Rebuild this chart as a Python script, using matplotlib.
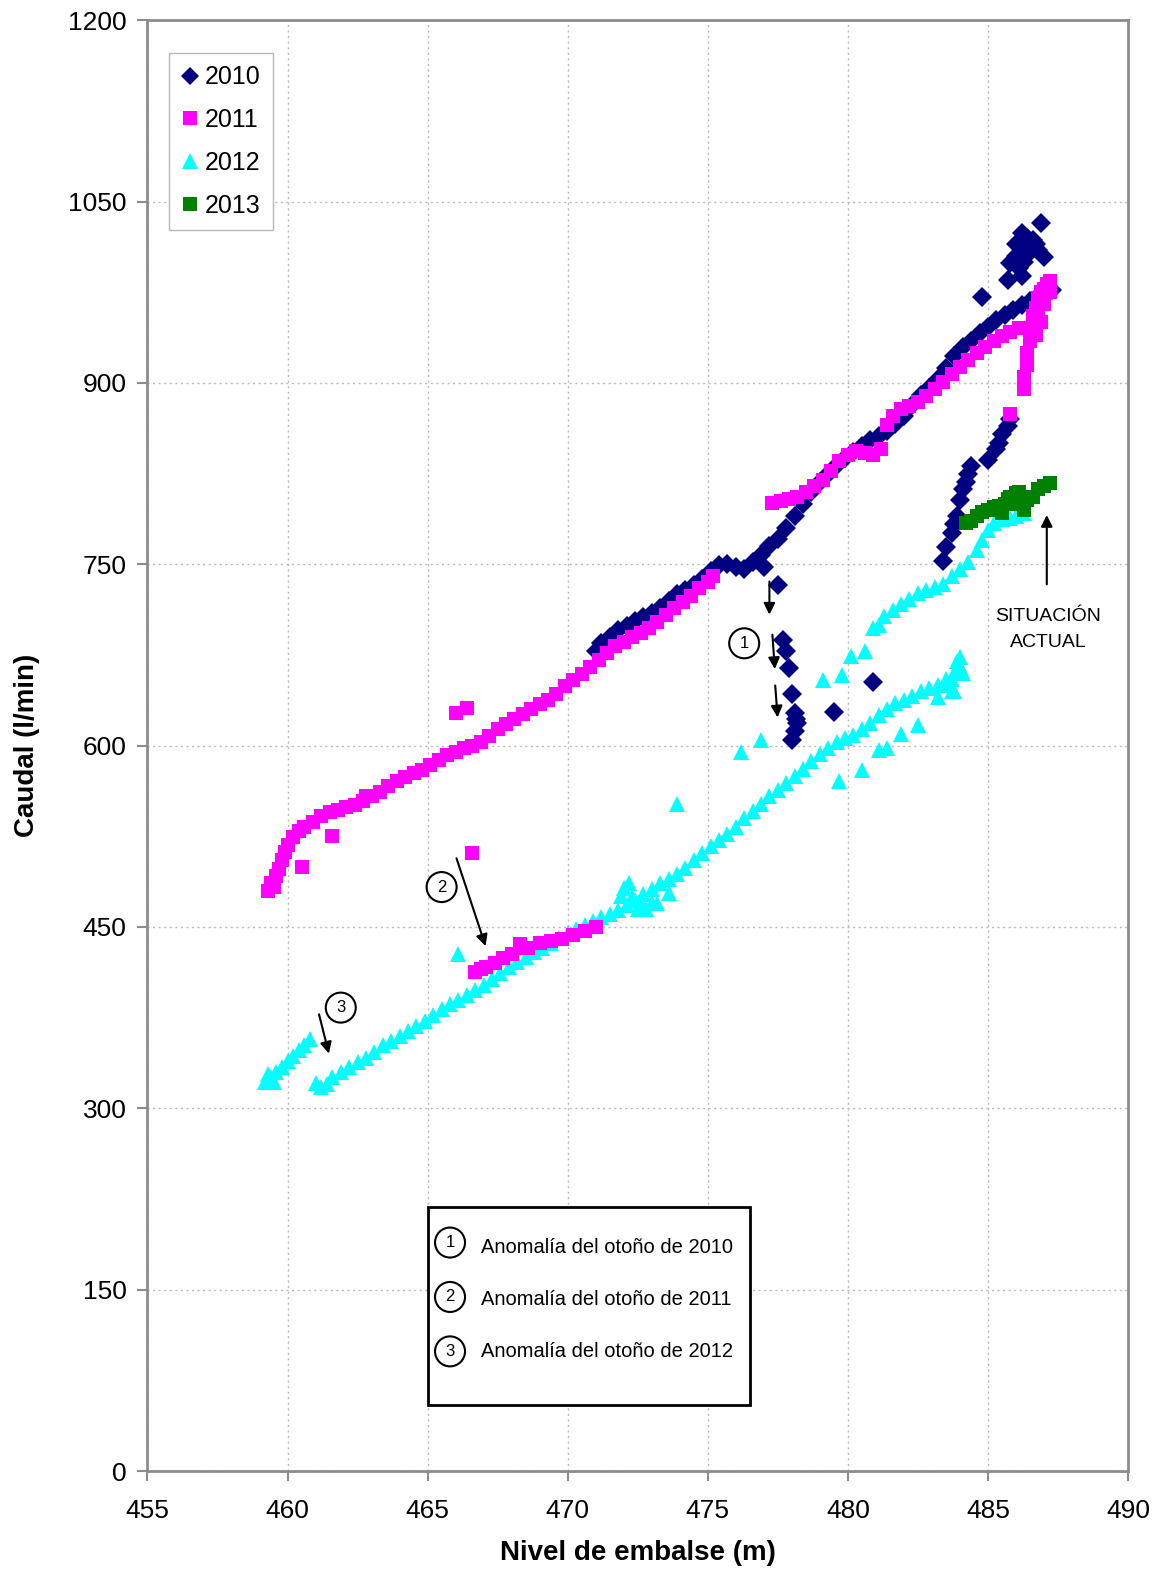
import numpy as np
import matplotlib
matplotlib.use("Agg")
import matplotlib.pyplot as plt
from matplotlib.lines import Line2D

plt.rcParams['font.family'] = ['Liberation Sans', 'DejaVu Sans']

# ---- 2010 (diamonds) ----
x_2010 = [471.0, 471.2, 471.5, 471.8, 472.1, 472.4, 472.7, 473.0, 473.3, 473.6, 473.9, 474.2,
          474.5, 474.8, 475.1, 475.4, 475.7, 476.0, 476.3, 476.6, 476.9, 477.2, 477.5, 477.8,
          478.1, 478.4, 478.7, 479.0, 479.3, 479.6, 479.9, 480.2, 480.5, 480.8, 481.1, 481.4,
          481.7, 482.0, 482.3, 482.6, 482.9, 483.2, 483.5, 483.8, 484.1, 484.4, 484.7, 485.0,
          485.3, 485.6, 485.9, 486.2, 486.5, 486.8, 487.1, 487.3,
          # top cluster
          484.8, 485.7, 486.2, 485.8, 486.0, 486.2, 486.4, 486.2, 486.6, 486.5, 486.9, 487.0,
          486.7, 486.3, 486.8, 486.0, 486.4, 486.1,
          # lower right branch
          483.4, 483.5, 483.7, 483.8, 483.9, 484.0, 484.1, 484.2, 484.3, 484.4, 485.0, 485.3,
          485.4, 485.5, 485.7, 485.8,
          # anomaly 1
          477.0, 477.5, 477.7, 477.8, 477.9, 478.0, 478.1, 478.2, 478.1, 478.0, 478.15, 480.9, 479.5]
y_2010 = [678, 685, 690, 696, 699, 703, 706, 710, 714, 720, 725, 729,
          733, 738, 744, 749, 750, 748, 746, 752, 758, 765, 771, 780,
          790, 800, 810, 818, 825, 832, 838, 843, 848, 853, 856, 860,
          866, 873, 882, 890, 896, 903, 912, 922, 930, 935, 941, 946,
          952, 956, 960, 964, 968, 972, 975, 977,
          971, 985, 988, 999, 1005, 1012, 1010, 1024, 1018, 1008, 1032, 1004,
          1015, 1000, 1010, 1015, 1020, 995,
          753, 764, 776, 783, 790, 803, 812, 818, 825, 831, 836, 845,
          850, 858, 864, 870,
          748, 733, 687, 678, 664, 643, 627, 619, 612, 605, 622, 653, 628]

# ---- 2011 (squares) ----
x_2011 = [459.3, 459.4, 459.5, 459.6, 459.7, 459.8, 459.9, 460.0, 460.2, 460.4, 460.6, 460.9,
          461.2, 461.5, 461.8, 462.1, 462.4, 462.7, 463.0, 463.3, 463.6, 463.9, 464.2, 464.5,
          464.8, 465.1, 465.4, 465.7, 466.0, 466.3, 466.6, 466.9, 467.2, 467.5, 467.8, 468.1,
          468.4, 468.7, 469.0, 469.3, 469.6, 469.9, 470.2, 470.5, 470.8, 471.1, 471.4, 471.7,
          472.0, 472.3, 472.6, 472.9, 473.2, 473.5, 473.8, 474.1, 474.4, 474.7, 475.0, 475.2,
          # outliers
          460.5, 461.6, 462.8, 466.0, 466.4, 466.6,
          # lower cluster (anomaly 2)
          466.7, 466.9, 467.1, 467.4, 467.7, 468.0, 468.3, 468.6, 469.0, 469.4, 469.8, 470.2,
          470.6, 471.0, 468.3,
          # upper right
          477.3, 477.6, 477.9, 478.2, 478.5, 478.8, 479.1, 479.4, 479.7, 480.0, 480.3, 480.6,
          480.9, 481.2, 481.4, 481.6, 481.9, 482.2, 482.5, 482.8, 483.1, 483.4, 483.7, 484.0,
          484.3, 484.6, 484.9, 485.2, 485.5, 485.8, 486.1,
          # vertical column near 486-487
          486.3, 486.3, 486.4, 486.4, 486.5, 486.5, 486.6, 486.7, 486.8, 486.9, 487.0, 487.1,
          487.2, 487.0, 486.8, 487.2, 486.7, 486.9, 485.8]
y_2011 = [480, 486, 483, 492, 498, 505, 512, 518, 524, 529, 533, 537,
          542, 545, 547, 549, 551, 554, 558, 562, 567, 571, 574, 577,
          580, 584, 588, 592, 595, 598, 600, 603, 608, 614, 618, 622,
          626, 630, 634, 638, 643, 649, 654, 659, 665, 671, 677, 682,
          686, 690, 693, 697, 702, 708, 714, 719, 724, 730, 735, 740,
          500, 525, 558, 627, 631, 511,
          413, 415, 417, 420, 424, 428, 433, 433, 437, 438, 440, 443,
          447, 450, 436,
          801, 802, 804, 806, 810, 815, 820, 827, 835, 840, 844, 842,
          840, 845, 865, 873, 878, 881, 884, 889, 895, 901, 907, 913,
          919, 925, 930, 935, 939, 942, 945,
          895, 905, 915, 925, 935, 945, 955, 962, 970, 975, 978, 982,
          984, 965, 958, 975, 940, 950, 874]

# ---- 2012 (triangles) ----
x_2012 = [459.2, 459.4, 459.6, 459.8, 460.0, 460.2, 460.4, 460.6, 460.8, 459.5, 459.3,
          461.0, 461.2, 461.4, 461.6, 461.9, 462.2, 462.5, 462.8, 463.1, 463.4, 463.7, 464.0,
          464.3, 464.6, 464.9, 465.2, 465.5, 465.8, 466.1, 466.4, 466.7, 467.0, 467.3, 467.6,
          467.9, 468.2, 468.5, 468.8, 469.1, 469.4, 469.7, 470.0, 470.3, 470.6, 470.9, 471.2,
          471.5, 471.8, 472.1, 472.4, 472.7, 473.0, 473.3, 473.6, 473.9, 474.2, 474.5, 474.8,
          475.1, 475.4, 475.7, 476.0, 476.3, 476.6, 476.9, 477.2, 477.5, 477.8, 478.1, 478.4,
          478.7, 479.0, 479.3, 479.6, 479.9, 480.2, 480.5, 480.8, 481.1, 481.4, 481.7, 482.0,
          482.3, 482.6, 482.9, 483.2, 483.5, 483.8, 484.0,
          # thickening
          472.0, 472.2, 471.9, 472.3, 472.6, 473.0, 472.8, 472.5, 473.2, 473.6,
          483.6, 483.9, 484.0, 483.7, 483.8, 484.1,
          # scattered
          466.1, 473.9, 476.2, 476.9, 478.1, 479.1, 479.8, 480.1, 480.6, 480.9, 479.7, 480.5,
          481.1, 481.4, 481.9, 482.5, 483.2, 483.7,
          # upper branch
          481.1, 481.3, 481.6, 481.9, 482.2, 482.5, 482.8, 483.1, 483.4, 483.7, 484.0, 484.3,
          484.6, 484.8, 485.0, 485.2, 485.5, 485.8, 486.0, 486.3]
y_2012 = [322, 326, 330, 334, 339, 343, 348, 352, 357, 322, 328,
          321, 318, 320, 326, 330, 334, 338, 342, 347, 352, 356, 360,
          364, 368, 372, 377, 382, 386, 390, 394, 398, 402, 407, 412,
          417, 421, 425, 429, 433, 437, 441, 445, 448, 452, 455, 458,
          461, 464, 468, 472, 477, 481, 486, 490, 494, 499, 505, 511,
          517, 522, 527, 533, 540, 546, 552, 558, 563, 569, 575, 581,
          587, 593, 598, 603, 606, 609, 614, 619, 625, 630, 635, 638,
          641, 645, 648, 650, 655, 660, 666,
          482, 486, 476, 475, 470, 470, 465, 465, 470, 478,
          650, 670, 673, 655, 645, 660,
          428, 552, 595, 605, 629, 654, 658, 674, 678, 697, 571, 580,
          596, 598, 610, 617, 640, 645,
          700, 707, 712, 717, 721, 726, 729, 731, 734, 740, 746, 752,
          762, 770, 778, 784, 787, 788, 790, 792]

# ---- 2013 (squares) ----
x_2013 = [484.2, 484.4, 484.6, 484.8, 485.0, 485.2, 485.4, 485.6, 485.8, 486.0, 486.2, 486.4,
          486.6, 486.8, 487.0, 487.2, 485.9, 486.3, 485.5, 485.7, 486.1]
y_2013 = [784, 786, 790, 793, 795, 797, 798, 800, 806, 809, 805, 803,
          806, 812, 815, 817, 800, 795, 792, 804, 810]

years = ['2010', '2011', '2012', '2013']
colors = ['#000080', '#ff00ff', '#00ffff', '#008000']
markers = ['D', 's', '^', 's']
msizes = [10, 10.5, 12, 10.5]

anomaly_labels = ['Anomalía del otoño de 2010', 'Anomalía del otoño de 2011',
                  'Anomalía del otoño de 2012']

fig = plt.figure(figsize=(11.61, 15.73), dpi=100)
ax = fig.add_axes([0.127, 0.0648, 0.8446, 0.9224])

series = [(x_2010, y_2010), (x_2011, y_2011), (x_2012, y_2012), (x_2013, y_2013)]
# draw order: 2012 at the back, then 2010, 2011, 2013
for i in [2, 0, 1, 3]:
    xs, ys = series[i]
    ax.plot(xs, ys, linestyle='none', marker=markers[i], markersize=msizes[i],
            color=colors[i], markeredgewidth=0, zorder=3)

ax.set_xlim(455, 490)
ax.set_ylim(0, 1200)
ax.set_xticks(np.arange(455, 491, 5))
ax.set_yticks(np.arange(0, 1201, 150))
ax.grid(True, color='#b8b8b8', linestyle=(0, (1.5, 2.5)), linewidth=1)
ax.set_axisbelow(True)
for s in ax.spines.values():
    s.set_color('#8c8c8c')
    s.set_linewidth(2)
ax.tick_params(axis='both', labelsize=19, color='#8c8c8c', width=1.5, length=7,
               direction='out')
ax.tick_params(axis='x', pad=13)
ax.tick_params(axis='y', pad=8)
ax.set_xlabel('Nivel de embalse (m)', fontsize=20, fontweight='bold', labelpad=12)
ax.set_ylabel('Caudal (l/min)', fontsize=20, fontweight='bold', labelpad=20)

# series legend
handles = [Line2D([], [], linestyle='none', marker=markers[i], markersize=msizes[i] * 0.95,
                  color=colors[i], markeredgewidth=0, label=years[i]) for i in range(4)]
leg = ax.legend(handles=handles, loc='upper left', bbox_to_anchor=(0.0215, 0.9775),
                borderaxespad=0, fontsize=18, handlelength=0.7, handletextpad=0.25,
                labelspacing=0.75, borderpad=0.5, fancybox=False, framealpha=1)
leg.get_frame().set_edgecolor('#b8b8b8')
leg.get_frame().set_linewidth(1)

circ = dict(boxstyle='circle,pad=0.45', fc='white', ec='black', lw=1.5)
arrow = dict(arrowstyle='-|>', color='black', lw=1.5, mutation_scale=17)

# anomaly 1 arrows
ax.annotate('', xy=(477.2, 706), xytext=(477.2, 738), arrowprops=arrow)
ax.annotate('', xy=(477.4, 661), xytext=(477.3, 694), arrowprops=arrow)
ax.annotate('', xy=(477.5, 621), xytext=(477.4, 652), arrowprops=arrow)
ax.text(476.3, 684.6, '1', fontsize=12, ha='center', va='center', bbox=circ, zorder=5)

# anomaly 2
ax.annotate('', xy=(467.1, 432), xytext=(466.0, 509), arrowprops=arrow)
ax.text(465.5, 483, '2', fontsize=12, ha='center', va='center', bbox=circ, zorder=5)

# anomaly 3
ax.annotate('', xy=(461.5, 343), xytext=(461.1, 380), arrowprops=arrow)
ax.text(461.9, 383.3, '3', fontsize=12, ha='center', va='center', bbox=circ, zorder=5)

# current situation
ax.annotate('', xy=(487.1, 793), xytext=(487.1, 731), arrowprops=arrow)
ax.text(487.15, 707, 'SITUACIÓN', fontsize=14, ha='center', va='center')
ax.text(487.15, 685, 'ACTUAL', fontsize=14, ha='center', va='center')

# anomaly box
box = plt.Rectangle((465.0, 54.7), 11.5, 163.3, fill=True, fc='white', ec='black',
                    lw=2, zorder=4)
ax.add_patch(box)
for k, lab in enumerate(anomaly_labels):
    yy = 185 - k * 43
    ax.text(465.8, yy + 4 - k * 2, str(k + 1), fontsize=12, ha='center', va='center',
            bbox=circ, zorder=5)
    ax.text(466.9, yy, lab, fontsize=14.5, ha='left', va='center', zorder=5)

fig.savefig('out.png', dpi=100)
